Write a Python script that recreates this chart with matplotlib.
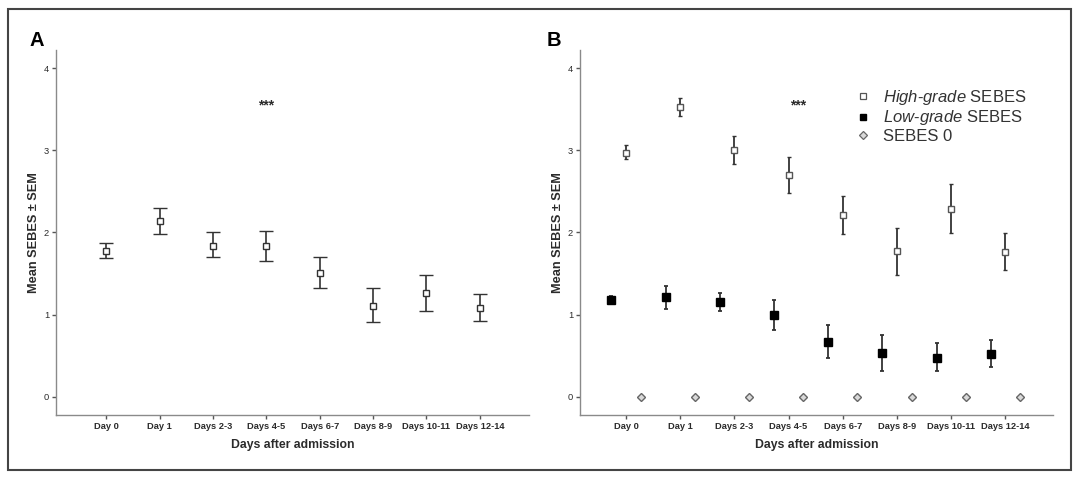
"""Mean SEBES over days after admission, panels A and B."""

import matplotlib

matplotlib.use("Agg")
import matplotlib.pyplot as plt
import numpy as np
from matplotlib.lines import Line2D
from matplotlib.patches import Rectangle

plt.rcParams["font.family"] = ["Liberation Sans", "DejaVu Sans"]
plt.rcParams["mathtext.fontset"] = "custom"
plt.rcParams["mathtext.rm"] = "Liberation Sans"
plt.rcParams["mathtext.it"] = "Liberation Sans:italic"

DAYS = ["Day 0", "Day 1", "Days 2-3", "Days 4-5", "Days 6-7", "Days 8-9", "Days 10-11", "Days 12-14"]

# panel A: all patients
A_MEAN = [1.78, 2.14, 1.84, 1.83, 1.51, 1.11, 1.27, 1.08]
A_LOW = [1.69, 1.98, 1.70, 1.65, 1.33, 0.91, 1.05, 0.92]
A_HIGH = [1.87, 2.30, 2.00, 2.02, 1.70, 1.32, 1.48, 1.25]

# panel B: by grade
HG_MEAN = [2.97, 3.53, 3.00, 2.70, 2.21, 1.77, 2.28, 1.76]
HG_LOW = [2.89, 3.42, 2.83, 2.48, 1.98, 1.48, 1.99, 1.54]
HG_HIGH = [3.06, 3.64, 3.17, 2.92, 2.44, 2.06, 2.59, 1.99]

LG_MEAN = [1.18, 1.21, 1.16, 1.00, 0.67, 0.54, 0.47, 0.52]
LG_LOW = [1.13, 1.07, 1.05, 0.82, 0.47, 0.32, 0.32, 0.36]
LG_HIGH = [1.23, 1.35, 1.26, 1.18, 0.87, 0.75, 0.65, 0.69]

ZERO_MEAN = [0, 0, 0, 0, 0, 0, 0, 0]

STAR_Y = 3.54

AXIS_GREY = "#8a8a8a"
TEXT = "#2b2b2b"


def yerr(mean, low, high):
    mean = np.asarray(mean)
    return [mean - np.asarray(low), np.asarray(high) - mean]


def style_axes(ax, xlim):
    for side in ("top", "right"):
        ax.spines[side].set_visible(False)
    for side in ("left", "bottom"):
        ax.spines[side].set_color(AXIS_GREY)
        ax.spines[side].set_linewidth(1.0)
    ax.set_xlim(*xlim)
    ax.set_ylim(-0.22, 4.22)
    ax.set_xticks(range(len(DAYS)))
    ax.set_xticklabels(DAYS, fontsize=6.7, color=TEXT, fontweight="bold")
    ax.set_yticks([0, 1, 2, 3, 4])
    ax.set_yticklabels(["0", "1", "2", "3", "4"], fontsize=6.7, color=TEXT)
    ax.tick_params(axis="both", length=3, width=1.0, color="#555555", pad=2)
    ax.set_xlabel("Days after admission", fontsize=8.8, fontweight="bold", color=TEXT, labelpad=6)
    ax.set_ylabel("Mean SEBES \u00b1 SEM", fontsize=9.2, fontweight="bold", color=TEXT, labelpad=3)


fig = plt.figure(figsize=(10.8, 4.79), dpi=100)
x = np.arange(len(DAYS))

# panel A
ax_a = fig.add_axes([56 / 1080, 64 / 479, 473 / 1080, 365 / 479])
ax_a.errorbar(
    x, A_MEAN, yerr=yerr(A_MEAN, A_LOW, A_HIGH),
    fmt="s", ms=5, mfc="white", mec="#333333", mew=1.0,
    ecolor="#333333", elinewidth=1.2, capsize=4.7, capthick=1.2,
)
ax_a.text(3, STAR_Y, "***", ha="center", va="center", fontsize=10, fontweight="bold", color=TEXT)
style_axes(ax_a, (-0.94, 7.92))

# panel B
ax_b = fig.add_axes([580 / 1080, 64 / 479, 473 / 1080, 365 / 479])
ax_b.errorbar(
    x, HG_MEAN, yerr=yerr(HG_MEAN, HG_LOW, HG_HIGH),
    fmt="s", ms=5, mfc="white", mec="#555555", mew=1.0,
    ecolor="#333333", elinewidth=1.3, capsize=1.3, capthick=1.3,
)
ax_b.errorbar(
    x - 0.27, LG_MEAN, yerr=yerr(LG_MEAN, LG_LOW, LG_HIGH),
    fmt="s", ms=5.3, mfc="black", mec="black",
    ecolor="#333333", elinewidth=1.3, capsize=1.3, capthick=1.3,
)
ax_b.plot(x + 0.27, ZERO_MEAN, "D", ms=4.2, mfc="#d9d9d9", mec="#666666", mew=1.0, linestyle="none")
ax_b.text(3.18, STAR_Y, "***", ha="center", va="center", fontsize=10, fontweight="bold", color=TEXT)
style_axes(ax_b, (-0.85, 7.88))

handles = [
    Line2D([], [], marker="s", ls="none", ms=4, mfc="white", mec="#555555", mew=0.9),
    Line2D([], [], marker="s", ls="none", ms=4, mfc="black", mec="black"),
    Line2D([], [], marker="D", ls="none", ms=3.6, mfc="#d9d9d9", mec="#666666", mew=0.9),
]
labels = [
    r"$\it{High}$-$\it{grade}$ SEBES",
    r"$\it{Low}$-$\it{grade}$ SEBES",
    "SEBES 0",
]
leg = ax_b.legend(
    handles, labels, loc="upper left", bbox_to_anchor=(845 / 1080, 1 - 76 / 479),
    bbox_transform=fig.transFigure, frameon=False, fontsize=12,
    handlelength=0.8, handletextpad=0.75, labelspacing=0.1, borderpad=0.2,
)
for t in leg.get_texts():
    t.set_color("#333333")

# panel letters
fig.text(30 / 1080, 1 - 46 / 479, "A", fontsize=14.5, fontweight="bold", color="black")
fig.text(547 / 1080, 1 - 46 / 479, "B", fontsize=14.5, fontweight="bold", color="black")

# outer frame
fig.patches.append(Rectangle(
    (8 / 1080, 9 / 479), 1063 / 1080, 461 / 479, transform=fig.transFigure,
    fill=False, edgecolor="#444444", linewidth=1.5,
))

fig.savefig("out.png", dpi=100)
